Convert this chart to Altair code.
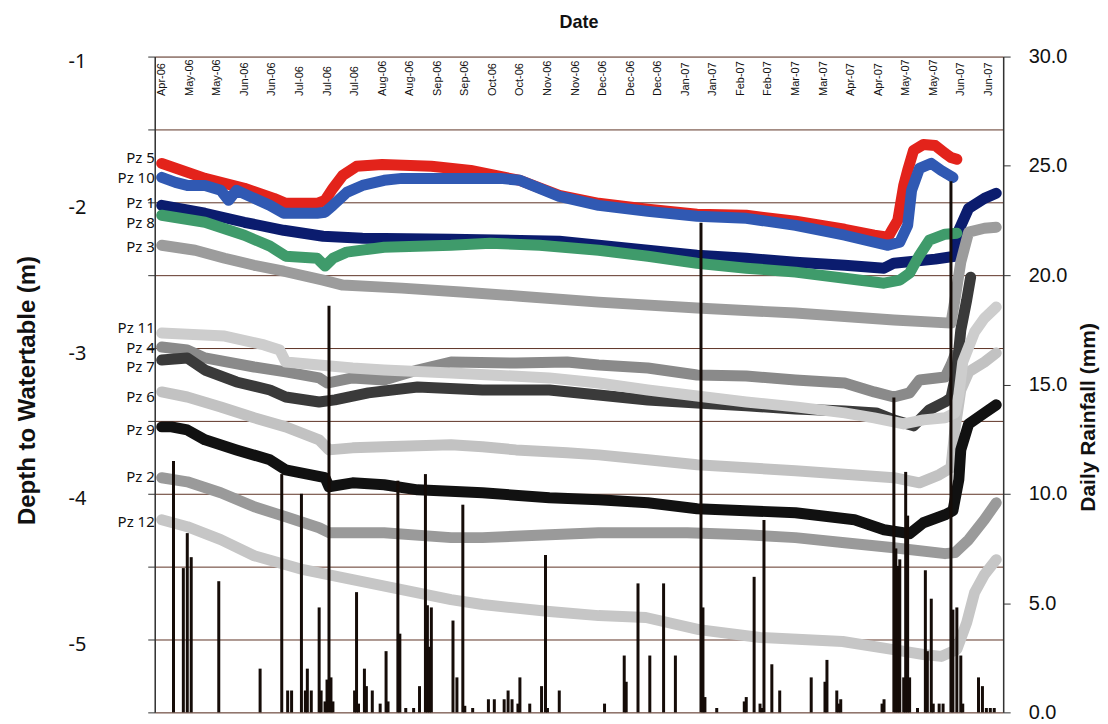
import altair as alt
import pandas as pd

# ---------------- data ----------------
tick_dates = ["2006-04-22", "2006-05-06", "2006-05-20", "2006-06-03", "2006-06-17",
              "2006-07-01", "2006-07-15", "2006-07-29", "2006-08-12", "2006-08-26",
              "2006-09-09", "2006-09-23", "2006-10-07", "2006-10-21", "2006-11-04",
              "2006-11-18", "2006-12-02", "2006-12-16", "2006-12-30", "2007-01-13",
              "2007-01-27", "2007-02-10", "2007-02-24", "2007-03-10", "2007-03-24",
              "2007-04-07", "2007-04-21", "2007-05-05", "2007-05-19", "2007-06-02",
              "2007-06-16"]
depth_ticks = [-1, -1.5, -2, -2.5, -3, -3.5, -4, -4.5, -5, -5.5]
rain_ticks = [0, 5, 10, 15, 20, 25, 30]

pz1_dates = ["2006-04-22", "2006-05-14", "2006-06-03", "2006-06-23", "2006-07-13", "2006-08-02",
             "2006-09-16", "2006-11-10", "2006-11-30", "2006-12-25", "2007-01-19", "2007-02-13",
             "2007-03-10", "2007-04-04", "2007-04-24", "2007-04-29", "2007-05-20", "2007-05-30",
             "2007-06-01", "2007-06-06", "2007-06-14", "2007-06-20"]
pz1_depth = [-2.021, -2.075, -2.137, -2.192, -2.233, -2.247, -2.253, -2.267, -2.295, -2.329,
             -2.363, -2.384, -2.411, -2.432, -2.452, -2.418, -2.390, -2.370, -2.192, -2.041,
             -1.973, -1.938]

pz2_dates = ["2006-04-22", "2006-05-05", "2006-05-22", "2006-06-08", "2006-06-24", "2006-07-11",
             "2006-07-16", "2006-08-13", "2006-09-16", "2006-10-02", "2006-11-05", "2006-11-30",
             "2007-01-14", "2007-02-13", "2007-03-10", "2007-04-04", "2007-04-29", "2007-05-25",
             "2007-05-30", "2007-06-06", "2007-06-14", "2007-06-20"]
pz2_depth = [-3.890, -3.918, -3.993, -4.089, -4.158, -4.233, -4.267, -4.267, -4.301, -4.301,
             -4.281, -4.267, -4.267, -4.281, -4.301, -4.336, -4.370, -4.411, -4.404, -4.315,
             -4.178, -4.062]

pz3_dates = ["2006-04-22", "2006-05-09", "2006-05-24", "2006-06-08", "2006-06-23", "2006-07-13",
             "2006-07-23", "2006-08-22", "2006-09-21", "2006-10-21", "2006-11-30", "2007-01-19",
             "2007-03-10", "2007-04-29", "2007-05-28", "2007-05-30", "2007-06-02", "2007-06-06",
             "2007-06-14", "2007-06-20"]
pz3_depth = [-2.295, -2.329, -2.384, -2.432, -2.473, -2.534, -2.568, -2.589, -2.616, -2.644,
             -2.685, -2.726, -2.760, -2.808, -2.829, -2.671, -2.411, -2.205, -2.178, -2.171]

pz4_dates = ["2006-04-22", "2006-05-05", "2006-05-14", "2006-06-08", "2006-06-24", "2006-07-11",
             "2006-07-15", "2006-07-28", "2006-08-13", "2006-08-30", "2006-09-16", "2006-10-19",
             "2006-11-14", "2006-11-30", "2006-12-25", "2007-01-19", "2007-02-13", "2007-03-10",
             "2007-04-04", "2007-04-19", "2007-04-29", "2007-05-07", "2007-05-12", "2007-05-25",
             "2007-05-28", "2007-05-30"]
pz4_depth = [-2.993, -3.014, -3.068, -3.130, -3.164, -3.205, -3.240, -3.205, -3.219, -3.151,
             -3.096, -3.103, -3.096, -3.116, -3.137, -3.185, -3.192, -3.219, -3.240, -3.301,
             -3.336, -3.308, -3.219, -3.199, -3.116, -3.048]

pz5_dates = ["2006-04-22", "2006-05-14", "2006-06-03", "2006-06-18", "2006-06-24", "2006-07-10",
             "2006-07-14", "2006-07-18", "2006-07-23", "2006-07-30", "2006-08-12", "2006-09-06",
             "2006-09-26", "2006-10-21", "2006-11-10", "2006-11-30", "2006-12-25", "2007-01-19",
             "2007-02-13", "2007-03-10", "2007-04-04", "2007-04-19", "2007-04-26", "2007-04-28",
             "2007-05-01", "2007-05-04", "2007-05-06", "2007-05-09", "2007-05-14", "2007-05-20",
             "2007-05-25", "2007-05-28", "2007-05-31"]
pz5_depth = [-1.733, -1.836, -1.904, -1.973, -2.007, -2.007, -1.986, -1.904, -1.815, -1.753,
             -1.740, -1.753, -1.781, -1.850, -1.952, -2.007, -2.048, -2.082, -2.089, -2.130,
             -2.185, -2.226, -2.240, -2.192, -2.123, -1.884, -1.781, -1.644, -1.603, -1.610,
             -1.664, -1.692, -1.705]

pz6_dates = ["2006-04-22", "2006-05-05", "2006-05-22", "2006-06-08", "2006-06-24", "2006-07-11",
             "2006-07-16", "2006-07-28", "2006-08-13", "2006-09-16", "2006-10-02", "2006-10-19",
             "2006-11-14", "2006-11-30", "2006-12-25", "2007-01-19", "2007-03-10", "2007-04-29",
             "2007-05-12", "2007-05-22", "2007-05-28", "2007-05-30", "2007-06-02", "2007-06-06",
             "2007-06-14", "2007-06-20"]
pz6_depth = [-3.301, -3.336, -3.404, -3.479, -3.541, -3.630, -3.699, -3.685, -3.678, -3.664,
             -3.678, -3.699, -3.719, -3.733, -3.767, -3.801, -3.842, -3.890, -3.925, -3.870,
             -3.822, -3.562, -3.288, -3.164, -3.096, -3.034]

pz7_dates = ["2006-04-22", "2006-05-05", "2006-05-14", "2006-05-30", "2006-06-16", "2006-06-24",
             "2006-07-11", "2006-07-19", "2006-08-05", "2006-08-30", "2006-10-02", "2006-11-05",
             "2006-11-30", "2006-12-25", "2007-01-19", "2007-02-13", "2007-03-10", "2007-04-04",
             "2007-04-20", "2007-04-29", "2007-05-09", "2007-05-17", "2007-05-25", "2007-05-28",
             "2007-05-31", "2007-06-02", "2007-06-05", "2007-06-07"]
pz7_depth = [-3.082, -3.068, -3.151, -3.233, -3.288, -3.336, -3.370, -3.356, -3.308, -3.267,
             -3.288, -3.288, -3.322, -3.356, -3.377, -3.397, -3.418, -3.432, -3.445, -3.493,
             -3.534, -3.425, -3.370, -3.342, -3.151, -2.877, -2.671, -2.514]

pz8_dates = ["2006-04-22", "2006-05-14", "2006-06-03", "2006-06-16", "2006-06-24", "2006-07-10",
             "2006-07-14", "2006-07-18", "2006-07-25", "2006-08-13", "2006-09-16", "2006-10-06",
             "2006-10-31", "2006-11-30", "2006-12-25", "2007-01-19", "2007-02-13", "2007-03-10",
             "2007-04-04", "2007-04-24", "2007-05-02", "2007-05-07", "2007-05-12", "2007-05-17",
             "2007-05-25", "2007-05-31"]
pz8_depth = [-2.089, -2.137, -2.226, -2.301, -2.370, -2.384, -2.438, -2.384, -2.342, -2.308,
             -2.295, -2.281, -2.295, -2.329, -2.370, -2.418, -2.452, -2.479, -2.521, -2.555,
             -2.534, -2.486, -2.363, -2.260, -2.219, -2.212]

pz9_dates = ["2006-04-22", "2006-04-27", "2006-05-05", "2006-05-14", "2006-05-30", "2006-06-16",
             "2006-06-24", "2006-07-14", "2006-07-16", "2006-07-28", "2006-08-13", "2006-08-30",
             "2006-10-02", "2006-11-05", "2006-11-30", "2006-12-25", "2007-01-19", "2007-03-10",
             "2007-04-09", "2007-04-24", "2007-05-07", "2007-05-14", "2007-05-25", "2007-05-29",
             "2007-06-01", "2007-06-02", "2007-06-06", "2007-06-14", "2007-06-20"]
pz9_depth = [-3.541, -3.541, -3.562, -3.630, -3.699, -3.767, -3.836, -3.890, -3.952, -3.925,
             -3.938, -3.973, -3.993, -4.027, -4.041, -4.062, -4.103, -4.130, -4.178, -4.247,
             -4.274, -4.199, -4.144, -4.116, -3.904, -3.699, -3.521, -3.445, -3.390]

pz10_dates = ["2006-04-22", "2006-04-29", "2006-05-05", "2006-05-14", "2006-05-22", "2006-05-26",
              "2006-05-30", "2006-06-08", "2006-06-16", "2006-06-23", "2006-07-10", "2006-07-14",
              "2006-07-18", "2006-07-25", "2006-08-02", "2006-08-13", "2006-08-22", "2006-10-11",
              "2006-10-21", "2006-10-31", "2006-11-10", "2006-11-30", "2006-12-25", "2007-01-19",
              "2007-02-13", "2007-03-10", "2007-04-04", "2007-04-19", "2007-04-26", "2007-05-02",
              "2007-05-06", "2007-05-08", "2007-05-12", "2007-05-18", "2007-05-23", "2007-05-29"]
pz10_depth = [-1.829, -1.863, -1.884, -1.884, -1.918, -1.986, -1.918, -1.973, -2.021, -2.075,
              -2.075, -2.068, -2.021, -1.932, -1.884, -1.849, -1.836, -1.836, -1.849, -1.904,
              -1.959, -2.021, -2.062, -2.096, -2.110, -2.158, -2.226, -2.274, -2.295, -2.274,
              -2.158, -1.918, -1.767, -1.733, -1.781, -1.829]

pz11_dates = ["2006-04-22", "2006-05-24", "2006-06-13", "2006-06-21", "2006-06-24", "2006-07-11",
              "2006-07-28", "2006-08-13", "2006-09-16", "2006-11-05", "2006-11-30", "2006-12-25",
              "2007-01-19", "2007-02-13", "2007-03-10", "2007-04-04", "2007-04-19", "2007-05-04",
              "2007-05-14", "2007-05-25", "2007-05-30", "2007-06-01", "2007-06-03", "2007-06-09",
              "2007-06-14", "2007-06-20"]
pz11_depth = [-2.897, -2.918, -2.979, -3.014, -3.096, -3.116, -3.137, -3.151, -3.171, -3.205,
              -3.240, -3.288, -3.329, -3.370, -3.404, -3.445, -3.479, -3.521, -3.493, -3.479,
              -3.445, -3.322, -3.096, -2.890, -2.795, -2.719]

pz12_dates = ["2006-04-22", "2006-05-05", "2006-05-22", "2006-06-08", "2006-07-03", "2006-07-28",
              "2006-08-22", "2006-09-16", "2006-10-02", "2006-11-05", "2006-11-30", "2006-12-24",
              "2007-01-20", "2007-02-20", "2007-04-03", "2007-04-28", "2007-05-14", "2007-05-23",
              "2007-05-31", "2007-06-05", "2007-06-09", "2007-06-14", "2007-06-20"]
pz12_depth = [-4.178, -4.226, -4.315, -4.425, -4.521, -4.589, -4.658, -4.726, -4.760, -4.808,
              -4.836, -4.849, -4.932, -4.986, -5.014, -5.068, -5.103, -5.116, -5.068, -4.884,
              -4.678, -4.555, -4.452]

rain_dates = ["2006-04-28", "2006-05-03", "2006-05-05", "2006-05-07", "2006-05-21", "2006-06-11",
              "2006-06-22", "2006-06-25", "2006-06-27", "2006-07-02", "2006-07-04", "2006-07-05",
              "2006-07-07", "2006-07-11", "2006-07-12", "2006-07-14", "2006-07-15", "2006-07-16",
              "2006-07-17", "2006-07-18", "2006-07-29", "2006-07-30", "2006-07-31", "2006-08-03",
              "2006-08-04", "2006-08-07", "2006-08-11", "2006-08-14", "2006-08-15", "2006-08-20",
              "2006-08-21", "2006-08-24", "2006-08-28", "2006-08-31", "2006-09-03", "2006-09-04",
              "2006-09-05", "2006-09-06", "2006-09-17", "2006-09-19", "2006-09-22", "2006-09-23",
              "2006-09-27", "2006-10-05", "2006-10-08", "2006-10-13", "2006-10-15", "2006-10-17",
              "2006-10-20", "2006-10-21", "2006-10-26", "2006-11-01", "2006-11-03", "2006-11-04",
              "2006-11-10", "2006-12-03", "2006-12-13", "2006-12-14", "2006-12-20", "2006-12-26",
              "2007-01-02", "2007-01-08", "2007-01-21", "2007-01-22", "2007-01-23", "2007-01-29",
              "2007-02-12", "2007-02-13", "2007-02-17", "2007-02-20", "2007-02-21", "2007-02-22",
              "2007-02-26", "2007-03-02", "2007-03-18", "2007-03-25", "2007-03-26", "2007-03-31",
              "2007-04-01", "2007-04-02", "2007-04-23", "2007-04-24", "2007-04-29", "2007-04-30",
              "2007-05-01", "2007-05-02", "2007-05-04", "2007-05-05", "2007-05-06", "2007-05-07",
              "2007-05-11", "2007-05-15", "2007-05-16", "2007-05-18", "2007-05-19", "2007-05-22",
              "2007-05-24", "2007-05-28", "2007-05-29", "2007-05-31", "2007-06-02", "2007-06-03",
              "2007-06-11", "2007-06-13", "2007-06-15", "2007-06-17", "2007-06-19"]
rain_mm = [11.5, 6.6, 8.2, 7.1, 6.0, 2.0,
           10.9, 1.0, 1.0, 10.0, 1.0, 2.0,
           1.0, 4.8, 1.0, 0.5, 1.5, 18.6,
           1.6, 0.5, 1.0, 5.5, 0.4, 2.0,
           1.2, 1.0, 0.4, 2.8, 0.5, 10.6,
           3.6, 0.2, 0.2, 1.2, 10.9, 4.9,
           3.0, 4.8, 4.2, 1.6, 9.5, 0.3,
           0.2, 0.6, 0.6, 0.6, 1.0, 0.6,
           0.4, 1.6, 0.4, 1.2, 7.2, 0.2,
           1.0, 0.4, 2.6, 1.4, 5.9, 2.6,
           5.9, 2.6, 22.4, 4.8, 0.7, 0.2,
           0.5, 0.7, 6.2, 0.4, 0.2, 8.8,
           2.2, 1.0, 1.6, 1.4, 2.4, 1.0,
           0.4, 0.6, 0.4, 0.6, 14.4, 7.5,
           6.7, 7.0, 1.6, 11.0, 9.0, 1.6,
           0.2, 6.5, 2.8, 5.2, 0.4, 0.4,
           0.4, 24.3, 4.7, 4.8, 2.6, 0.4,
           1.6, 1.2, 0.2, 0.2, 0.2]

pz_names = ["Pz 1", "Pz 2", "Pz 3", "Pz 4", "Pz 5", "Pz 6",
            "Pz 7", "Pz 8", "Pz 9", "Pz 10", "Pz 11", "Pz 12"]
pz_colors = ["#0b1c6e", "#9a9a9a", "#9c9c9c", "#8a8a8a", "#e3231b", "#c2c2c2",
             "#3a3a3a", "#3f9b6b", "#111111", "#3059b3", "#cdcdcd", "#c6c6c6"]
# depth at which each series name is written, left of the axis
label_depth = [-2.007, -3.884, -2.308, -3.000, -1.699, -3.336,
               -3.130, -2.144, -3.562, -1.836, -2.863, -4.192]
label_date = "2006-04-22"

# ---------------- tables ----------------
series = [(pz1_dates, pz1_depth), (pz2_dates, pz2_depth), (pz3_dates, pz3_depth),
          (pz4_dates, pz4_depth), (pz5_dates, pz5_depth), (pz6_dates, pz6_depth),
          (pz7_dates, pz7_depth), (pz8_dates, pz8_depth), (pz9_dates, pz9_depth),
          (pz10_dates, pz10_depth), (pz11_dates, pz11_depth), (pz12_dates, pz12_depth)]
rows = []
for i, (ds, vs) in enumerate(series):
    for d, v in zip(ds, vs):
        rows.append({"pz": pz_names[i], "order": i, "date": d, "depth": v})
df_lines = pd.DataFrame(rows)
df_rain = pd.DataFrame({"date": rain_dates, "rain": rain_mm})
df_lab = pd.DataFrame({"pz": pz_names, "date": [label_date] * len(pz_names), "pos": label_depth})


def dt(s):
    y, m, d = (int(p) for p in s.split("-"))
    return alt.DateTime(year=y, month=m, date=d, utc=True)


x_scale = alt.Scale(type="utc", domain=[dt("2006-04-21"), dt("2007-06-21")])
depth_scale = alt.Scale(domain=[-5.5, -1], nice=False, zero=False)
rain_scale = alt.Scale(domain=[0, 30], nice=False)


def x_axis():
    return alt.Axis(orient="top", values=[dt(s) for s in tick_dates], format="%b-%y",
                    labelAngle=270, labelFont="Liberation Sans", labelFontSize=11,
                    labelColor="#111", labelPadding=2, ticks=False, domain=False,
                    grid=False, offset=-41, title=None, labelOverlap=False,
                    labelSeparation=0)


left_axis = alt.Axis(values=depth_ticks,
                     labelExpr="datum.value % 1 == 0 ? '' + datum.value : ''",
                     labelFont="Noto Sans", labelFontSize=20, labelColor="#111",
                     labelPadding=62, labelOffset=5, tickSize=7, tickColor="#333",
                     domainColor="#333", domainWidth=1.5,
                     grid=True, gridColor="#5e3426", gridWidth=1,
                     title="Depth to Watertable (m)", titleFont="Liberation Sans",
                     titleFontSize=24, titleFontWeight="bold", titleColor="#111",
                     titleAngle=270, titleX=-127, titleY=334, titleAlign="center",
                     titleBaseline="middle")

right_axis = alt.Axis(orient="right", values=rain_ticks, format=".1f",
                      labelFont="Liberation Sans", labelFontSize=20, labelColor="#111",
                      labelPadding=18, tickSize=7, tickColor="#333",
                      domainColor="#333", domainWidth=1.5, grid=False,
                      title="Daily Rainfall (mm)", titleFont="Liberation Sans",
                      titleFontSize=21, titleFontWeight="bold", titleColor="#111",
                      titleAngle=270, titleX=85, titleY=361, titleAlign="center",
                      titleBaseline="middle")

lines = alt.Chart(df_lines).mark_line(strokeWidth=11, strokeCap="round",
                                      strokeJoin="round").encode(
    x=alt.X("date:T", scale=x_scale, axis=x_axis()),
    y=alt.Y("depth:Q", scale=depth_scale, axis=left_axis),
    color=alt.Color("pz:N", scale=alt.Scale(domain=pz_names, range=pz_colors), legend=None),
    detail="order:O",
)

bars = alt.Chart(df_rain).mark_bar(size=3, color="#150c08").encode(
    x=alt.X("date:T", scale=x_scale, axis=x_axis()),
    y=alt.Y("rain:Q", scale=rain_scale, axis=right_axis),
)

labels = alt.Chart(df_lab).mark_text(align="right", baseline="middle", dx=-7,
                                     font="Noto Sans", fontSize=15, color="#111").encode(
    x=alt.X("date:T", scale=x_scale, axis=x_axis()),
    y=alt.Y("pos:Q", scale=depth_scale, axis=None),
    text="pz:N",
)

chart = alt.layer(lines, bars, labels).resolve_scale(y="independent").properties(
    width=850, height=657,
    autosize=alt.AutoSizeParams(type="none"),
    padding={"left": 147, "top": 48, "right": 97, "bottom": 12},
    title=alt.Title("Date", font="Liberation Sans", fontSize=18, fontWeight="bold",
                    color="#111", anchor="middle", offset=15),
).configure_view(stroke="#444", strokeWidth=1.2).configure_axisX(
    labelOverlap=False
).configure(background="white")

chart.save("out.html", embed_options={"renderer": "svg", "actions": False})
